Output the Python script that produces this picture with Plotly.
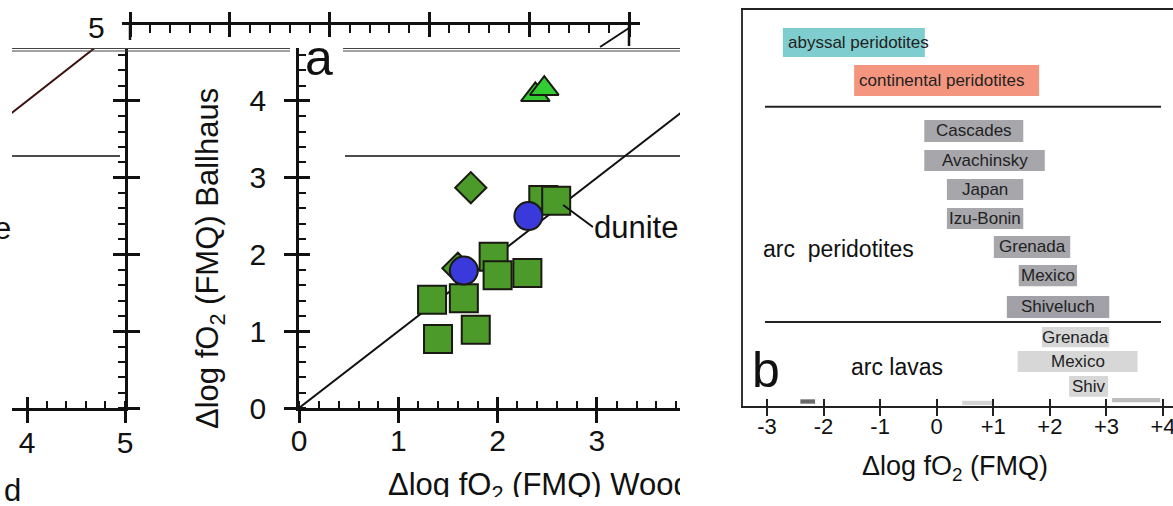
import plotly.graph_objects as go

W, H = 1173, 506
FONT = "Liberation Sans, Arial, Helvetica, sans-serif"

# ---------------- panel a : Δlog fO2 (FMQ), Wood vs Ballhaus ----------------
sq_wood = [1.34, 1.66, 1.40, 1.78, 1.96, 2.00, 2.30, 2.46, 2.59]
sq_ballhaus = [1.41, 1.43, 0.90, 1.02, 1.97, 1.73, 1.76, 2.71, 2.70]
ci_wood = [1.66, 2.31]
ci_ballhaus = [1.79, 2.50]
di_wood = [1.60, 1.73]
di_ballhaus = [1.82, 2.87]
tr_wood = [2.38, 2.47]
tr_ballhaus = [4.08, 4.16]
one_to_one = [0, 5]
a_xticks = [0, 1, 2, 3]
a_yticks = [0, 1, 2, 3, 4]
frag_xticks = [4, 5]

# ---------------- panel b : fO2 ranges ----------------
b_labels = ["abyssal peridotites", "continental peridotites", "Cascades", "Avachinsky",
            "Japan", "Izu-Bonin", "Grenada", "Mexico", "Shiveluch",
            "Grenada", "Mexico", "Shiv"]
b_low = [-2.72, -1.46, -0.22, -0.22, 0.18, 0.18, 1.01, 1.45, 1.24, 1.86, 1.43, 2.34]
b_high = [-0.21, 1.81, 1.53, 1.91, 1.53, 1.53, 2.36, 2.48, 3.05, 3.05, 3.55, 3.03]
stub_low = [-2.41, 0.45, 3.10]
stub_high = [-2.15, 1.00, 3.95]
b_tickvals = [-3, -2, -1, 0, 1, 2, 3, 4]
b_ticktext = ["-3", "-2", "-1", "0", "+1", "+2", "+3", "+4"]

# row layout of panel b (slot units, top to bottom) and styling
row_y = [1.12, 2.43, 4.17, 5.19, 6.19, 7.19, 8.17, 9.16, 10.24, 11.28, 12.12, 12.98]
row_h = [1.0, 1.07, 0.76, 0.73, 0.73, 0.73, 0.76, 0.73, 0.76, 0.70, 0.72, 0.72]
row_col = ["#80cdcf", "#f4967f"] + ["#a6a6ab"] * 6 + ["#a1a1a7"] + ["#d7d7d7"] * 3
left_text = [True, True] + [False] * 10
stub_y = [13.5, 13.55, 13.45]
stub_col = ["#6a6a6a", "#d4d4d4", "#bdbdbd"]


def dx(a, b):
    return [a / W, b / W]


def dy(top, bottom):
    return [1 - bottom / H, 1 - top / H]


def px(x):
    return x / W


def py(y):
    return 1 - y / H


A_XRANGE = [0, 381 / 99.3]
A_YRANGE = [0, 360 / 76.76]
F_XRANGE = [5 - 113 / 98.0, 5]
R_XRANGE = [-8 / 99.8, 510 / 99.8]
B_XRANGE = [-3 - 24 / 56.57, 4 + 10 / 56.57]

fig = go.Figure()


def dummy(xa, ya):
    fig.add_trace(go.Scatter(x=[-99], y=[-99], mode="markers", xaxis=xa, yaxis=ya,
                             marker=dict(size=1, opacity=0), hoverinfo="skip",
                             showlegend=False))


# 1:1 line, panel a and its continuation on the left
fig.add_trace(go.Scatter(x=one_to_one, y=one_to_one, mode="lines", xaxis="x", yaxis="y",
                         line=dict(color="#111", width=2), hoverinfo="skip"))
fig.add_trace(go.Scatter(x=one_to_one, y=one_to_one, mode="lines", xaxis="x2", yaxis="y2",
                         line=dict(color="#3a1010", width=2), hoverinfo="skip"))

mk_line = dict(color="#1a1a12", width=2)
fig.add_trace(go.Scatter(x=di_wood, y=di_ballhaus, mode="markers", xaxis="x", yaxis="y",
                         marker=dict(symbol="diamond", size=24, color="#4b9a2a", line=mk_line)))
fig.add_trace(go.Scatter(x=sq_wood, y=sq_ballhaus, mode="markers", xaxis="x", yaxis="y",
                         marker=dict(symbol="square", size=28, color="#4b9a2a", line=mk_line)))
fig.add_trace(go.Scatter(x=ci_wood, y=ci_ballhaus, mode="markers", xaxis="x", yaxis="y",
                         marker=dict(symbol="circle", size=28, color="#3a3adc", line=mk_line)))
fig.add_trace(go.Scatter(x=tr_wood, y=tr_ballhaus, mode="markers", xaxis="x", yaxis="y",
                         marker=dict(symbol="triangle-up", size=25, color="#33cc33", line=mk_line)))

# dunite label with leader
fig.add_trace(go.Scatter(x=[2.66, 2.96], y=[2.645, 2.358], mode="lines", xaxis="x", yaxis="y",
                         line=dict(color="#111", width=2), hoverinfo="skip"))
fig.add_trace(go.Scatter(x=[2.97], y=[2.32], mode="text", text=["dunite"],
                         textposition="middle right", xaxis="x", yaxis="y", cliponaxis=True,
                         textfont=dict(family=FONT, size=31, color="#111"), hoverinfo="skip"))

# bottom axis title of panel a, clipped to the frame
fig.add_trace(go.Scatter(x=[8], y=[10], mode="text",
                         text=["Δlog fO<sub>2</sub> (FMQ) Wood"],
                         textposition="middle right", xaxis="x6", yaxis="y6", cliponaxis=True,
                         textfont=dict(family=FONT, size=31, color="#111"), hoverinfo="skip"))

# panel b bars
fig.add_trace(go.Bar(orientation="h", y=row_y, base=b_low,
                     x=[h - l for l, h in zip(b_low, b_high)], width=row_h,
                     marker=dict(color=row_col, line=dict(width=0)),
                     xaxis="x3", yaxis="y3", hoverinfo="skip"))
fig.add_trace(go.Bar(orientation="h", y=stub_y, base=stub_low,
                     x=[h - l for l, h in zip(stub_low, stub_high)], width=0.15,
                     marker=dict(color=stub_col, line=dict(width=0)),
                     xaxis="x3", yaxis="y3", hoverinfo="skip"))

# overlay axes carrying the inner half of crossing major ticks, plus ruler subplot
for xa, ya in [("x5", "y"), ("x", "y7"), ("x8", "y2"), ("x2", "y9"), ("x10", "y4"),
               ("x4", "y4"), ("x11", "y3")]:
    dummy(xa, ya)

ax_common = dict(showgrid=False, zeroline=False, linecolor="#111", tickcolor="#111",
                 automargin=False, tickangle=0,
                 tickfont=dict(family=FONT, size=30, color="#111"))
ov_common = dict(showticklabels=False, showline=False, showgrid=False, zeroline=False,
                 automargin=False)

lay = dict(
    template="none",
    width=W, height=H, autosize=False,
    margin=dict(l=0, r=0, t=0, b=0, pad=0),
    paper_bgcolor="white", plot_bgcolor="rgba(0,0,0,0)",
    showlegend=False, barmode="overlay",
    font=dict(family=FONT, color="#111"),
    # panel a
    xaxis=dict(domain=dx(299, 680), range=A_XRANGE, anchor="y", showline=True, linewidth=2.5,
               ticks="outside", ticklen=12, tickwidth=2.5, tickvals=a_xticks,
               ticklabelstandoff=-8,
               minor=dict(ticks="inside", ticklen=7, tickwidth=2, dtick=0.2, tick0=0,
                          tickcolor="#111"), **ax_common),
    xaxis5=dict(domain=dx(299, 680), range=A_XRANGE, anchor="y", overlaying="x",
                ticks="inside", ticklen=11, tickwidth=2.5, tickvals=a_xticks,
                tickcolor="#111", **ov_common),
    yaxis=dict(domain=dy(48, 408), range=A_YRANGE, anchor="x", showline=True, linewidth=2.5,
               ticks="outside", ticklen=12, tickwidth=2.5, tickvals=a_yticks,
               ticklabelstandoff=12,
               minor=dict(ticks="inside", ticklen=7, tickwidth=2, dtick=0.2, tick0=0,
                          tickcolor="#111"), **ax_common),
    yaxis7=dict(domain=dy(48, 408), range=A_YRANGE, anchor="x", overlaying="y",
                ticks="inside", ticklen=11, tickwidth=2.5, tickvals=a_yticks,
                tickcolor="#111", **ov_common),
    # fragment on the left (x from 3.85 to 5)
    xaxis2=dict(domain=dx(12, 125), range=F_XRANGE, anchor="y2", showline=True, linewidth=2.5,
                ticks="outside", ticklen=12, tickwidth=2.5, tickvals=frag_xticks,
                ticklabelstandoff=-6,
                minor=dict(ticks="inside", ticklen=7, tickwidth=2, dtick=0.2, tick0=0,
                           tickcolor="#111"), **ax_common),
    xaxis8=dict(domain=dx(12, 125), range=F_XRANGE, anchor="y2", overlaying="x2",
                ticks="inside", ticklen=11, tickwidth=2.5, tickvals=frag_xticks,
                tickcolor="#111", **ov_common),
    yaxis2=dict(domain=dy(48, 408), range=A_YRANGE, anchor="x2", side="right",
                showline=True, linewidth=2.5, ticks="outside", ticklen=12, tickwidth=2.5,
                tickvals=[0, 1, 2, 3, 4], showticklabels=False,
                minor=dict(ticks="inside", ticklen=7, tickwidth=2, dtick=0.2, tick0=0,
                           tickcolor="#111"), **ax_common),
    yaxis9=dict(domain=dy(48, 408), range=A_YRANGE, anchor="x2", overlaying="y2", side="right",
                ticks="inside", ticklen=12, tickwidth=2.5, tickvals=[0, 1, 2, 3, 4],
                tickcolor="#111", **ov_common),
    # ruler along the top
    xaxis4=dict(domain=dx(122, 640), range=R_XRANGE, anchor="y4", side="top",
                showline=True, linewidth=2.5, ticks="outside", ticklen=10, tickwidth=2.5,
                dtick=1, tick0=0, showticklabels=False,
                minor=dict(ticks="inside", ticklen=8, tickwidth=2, dtick=0.2, tick0=0,
                           tickcolor="#111"), **ax_common),
    xaxis10=dict(domain=dx(122, 640), range=R_XRANGE, anchor="y4", overlaying="x4", side="top",
                 ticks="inside", ticklen=12, tickwidth=2.5, dtick=1, tick0=0,
                 tickcolor="#111", **ov_common),
    yaxis4=dict(domain=dy(25, 26), range=[0, 1], anchor="x4", visible=False, automargin=False),
    # panel b
    xaxis3=dict(domain=dx(743, 1173), range=B_XRANGE, anchor="y3", showline=True, linewidth=2,
                mirror=True, ticks="outside", ticklen=8, tickwidth=2,
                tickvals=b_tickvals, ticktext=b_ticktext, ticklabelstandoff=-8,
                ticklabeloverflow="allow", tickangle=0,
                showgrid=False, zeroline=False, linecolor="#222", tickcolor="#222",
                automargin=False,
                tickfont=dict(family=FONT, size=22, color="#111")),
    xaxis11=dict(domain=dx(743, 1173), range=B_XRANGE, anchor="y3", overlaying="x3",
                 ticks="inside", ticklen=7, tickwidth=2, tickvals=b_tickvals,
                 tickcolor="#222", **ov_common),
    yaxis3=dict(domain=dy(10, 406), range=[396 / 29.0, 0], anchor="x3", showline=True,
                linewidth=2, linecolor="#333", ticks="", showticklabels=False,
                showgrid=False, zeroline=False, automargin=False),
    # clipping frame for the bottom title of panel a
    xaxis6=dict(domain=dx(380, 680), range=[0, 300], anchor="y6", visible=False,
                automargin=False),
    yaxis6=dict(domain=dy(462, 497), range=[0, 35], anchor="x6", visible=False,
                automargin=False),
)
fig.update_layout(**lay)

# text labels
ann = []
for lab, lo, hi, yy, left in zip(b_labels, b_low, b_high, row_y, left_text):
    if left:
        ann.append(dict(x=lo + 0.05, y=yy, xref="x3", yref="y3", text=lab, showarrow=False,
                        xanchor="left", yanchor="middle",
                        font=dict(family=FONT, size=17, color="#222")))
    else:
        ann.append(dict(x=(lo + hi) / 2, y=yy, xref="x3", yref="y3", text=lab,
                        showarrow=False, xanchor="center", yanchor="middle",
                        font=dict(family=FONT, size=17, color="#222")))


def paper_text(x, y, text, size, xanchor="center", angle=0):
    ann.append(dict(x=px(x), y=py(y), xref="paper", yref="paper", text=text,
                    showarrow=False, xanchor=xanchor, yanchor="middle", textangle=angle,
                    font=dict(family=FONT, size=size, color="#111")))


paper_text(838, 249, "arc\u00a0\u00a0peridotites", 23)
paper_text(897, 367, "arc lavas", 23)
paper_text(750, 370, "b", 50, xanchor="left")
paper_text(303, 58, "a", 50, xanchor="left")
paper_text(96, 27, "5", 30)
paper_text(13, 228, "e", 31, xanchor="right")
paper_text(23, 490, "d", 31, xanchor="right")
paper_text(210, 259, "Δlog fO<sub>2</sub> (FMQ) Ballhaus", 31, angle=-90)
paper_text(955, 468, "Δlog fO<sub>2</sub> (FMQ)", 27)
fig.update_layout(annotations=ann)

# seam lines and corner pieces
shapes = []


def hline(y, x0, x1, color="#222", w=1.2):
    shapes.append(dict(type="line", xref="paper", yref="paper", x0=px(x0), x1=px(x1),
                       y0=py(y), y1=py(y), line=dict(color=color, width=w)))


for y in (48.5, 51):
    hline(y, 12, 290, "#444", 1)
    hline(y, 343, 680, "#444", 1)
hline(156, 12, 120, "#111", 1.5)
hline(156, 345, 680, "#111", 1.5)
shapes.append(dict(type="line", xref="x4", yref="paper", x0=0, x1=0, y0=py(25), y1=py(40),
                   line=dict(color="#111", width=2.5)))
shapes.append(dict(type="line", xref="x4", yref="paper", x0=5, x1=5, y0=py(25), y1=py(46),
                   line=dict(color="#111", width=2.5)))
shapes.append(dict(type="line", xref="x4", yref="paper", x0=4.71, x1=5, y0=py(47), y1=py(28),
                   line=dict(color="#111", width=2)))
# separators between groups in panel b
for ysep in (3.34, 10.76):
    shapes.append(dict(type="line", xref="x3", yref="y3", x0=-3.035, x1=3.965, y0=ysep, y1=ysep,
                       line=dict(color="#222", width=2)))
fig.update_layout(shapes=shapes)

fig.write_html("out.html")
